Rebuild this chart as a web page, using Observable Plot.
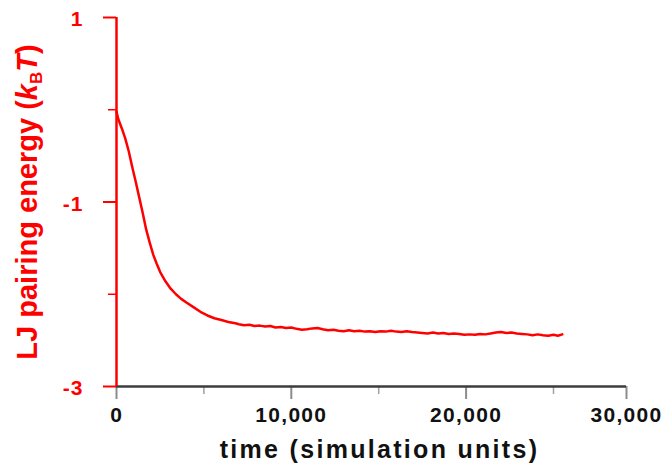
<!DOCTYPE html>
<html><head><meta charset="utf-8">
<script src="https://cdn.jsdelivr.net/npm/d3@7"></script>
<script src="https://cdn.jsdelivr.net/npm/@observablehq/plot@0.6"></script>
<style>
html,body{margin:0;padding:0;background:#fff;}
</style></head><body><div id="chart"></div>
<script>
// ---- data ----
const time = [
  0, 100, 300, 500, 700, 900, 1100, 1300, 1500, 1700, 1900, 2100, 2300, 2500, 2800,
  3100, 3400, 3700, 4000, 4400, 4800, 5200, 5600, 6000, 6400, 6800,
  7000, 7300, 7600, 7900, 8200, 8500, 8800, 9100, 9400, 9700, 10000, 10300, 10600,
  10900, 11200, 11500, 11800, 12100, 12400, 12700, 13000, 13300, 13600, 13900, 14200,
  14500, 14800, 15100, 15400, 15700, 16000, 16300, 16600, 16900, 17200, 17500, 17800,
  18100, 18400, 18700, 19000, 19300, 19600, 19900, 20200, 20500, 20800, 21100, 21400,
  21700, 22000, 22300, 22600, 22900, 23200, 23500, 23800, 24100, 24400, 24700, 25000,
  25300, 25600
];
const energy = [
  -0.02, -0.10, -0.20, -0.31, -0.45, -0.62, -0.78, -0.95, -1.12, -1.30, -1.44, -1.57, -1.67, -1.76, -1.86,
  -1.94, -2.00, -2.05, -2.09, -2.14, -2.19, -2.23, -2.26, -2.28, -2.30, -2.315,
  -2.325, -2.335, -2.330, -2.345, -2.340, -2.350, -2.345, -2.360, -2.355, -2.365, -2.360, -2.375, -2.385,
  -2.380, -2.370, -2.365, -2.380, -2.390, -2.385, -2.395, -2.400, -2.390, -2.400, -2.395, -2.405,
  -2.400, -2.410, -2.400, -2.405, -2.395, -2.405, -2.410, -2.400, -2.410, -2.415, -2.420, -2.425,
  -2.415, -2.425, -2.420, -2.430, -2.425, -2.430, -2.440, -2.435, -2.440, -2.430, -2.435, -2.425,
  -2.415, -2.410, -2.420, -2.415, -2.425, -2.430, -2.435, -2.445, -2.435, -2.445, -2.450, -2.440,
  -2.450, -2.435
];
const xMajorTicks = [0, 10000, 20000, 30000];
const xMinorTicks = [5000, 15000, 25000];
const yMajorTicks = [1, -1, -3];
const yMinorTicks = [0, -2];
const xLabel = "time (simulation units)";
const yLabel = "LJ pairing energy (kBT)";

// ---- chart ----
const data = time.map((t, i) => ({t, e: energy[i]}));
const red = "#ff0000";
const font = "'Liberation Sans', Arial, Helvetica, sans-serif";

const chart = Plot.plot({
  width: 666,
  height: 466,
  marginLeft: 116,
  marginRight: 40,
  marginTop: 17,
  marginBottom: 80,
  style: {fontFamily: font, background: "white"},
  x: {type: "linear", domain: [0, 25000, 30000], range: [116, 553, 626], axis: null},
  y: {type: "linear", domain: [-3, 1], axis: null},
  marks: [
    Plot.ruleX(xMajorTicks, {x: d => d, y1: -3, y2: -3, insetBottom: -13, stroke: "#8c8c8c", strokeWidth: 2}),
    Plot.ruleX(xMinorTicks, {x: d => d, y1: -3, y2: -3, insetBottom: -8, stroke: "#a0a0a0", strokeWidth: 1.5}),
    Plot.ruleY([-3], {x1: 0, x2: 30000, stroke: "#3c3c3c", strokeWidth: 2.5}),
    Plot.ruleY(yMajorTicks, {y: d => d, x1: 0, x2: 0, insetLeft: -13, stroke: red, strokeWidth: 2}),
    Plot.ruleY(yMinorTicks, {y: d => d, x1: 0, x2: 0, insetLeft: -8, stroke: red, strokeWidth: 1.5}),
    Plot.ruleX([0], {y1: -3, y2: 1, stroke: red, strokeWidth: 2.5}),
    Plot.line(data, {x: "t", y: "e", stroke: red, strokeWidth: 2.5, strokeLinejoin: "round"}),
    Plot.text(xMajorTicks, {x: d => d, y: -3, dy: 28.5, text: d => d3.format(",")(d),
      fontSize: 21, fontWeight: "bold", fill: "#111", lineAnchor: "middle"}),
    Plot.text(yMajorTicks, {x: 0, y: d => d, dx: -33, dy: 2, textAnchor: "end", text: d => String(d),
      fontSize: 21, fontWeight: "bold", fill: red, lineAnchor: "middle"}),
    Plot.text([xLabel], {frameAnchor: "bottom", dx: 8, dy: 63, text: d => d, lineAnchor: "middle",
      textAnchor: "middle", fontSize: 25, fontWeight: "bold", fill: "#111"}),
    Plot.text([yLabel], {frameAnchor: "left", rotate: -90, dx: -88.5, text: d => d, lineAnchor: "middle",
      textAnchor: "middle", fontSize: 29, fontWeight: "bold", fill: red})
  ]
});
document.getElementById("chart").appendChild(chart);

// letter spacing and the k_B T subscript
const svg = d3.select(chart);
svg.selectAll("text").each(function() {
  const t = this.textContent;
  const s = d3.select(this);
  if (/^[\d,]+$/.test(t)) s.style("letter-spacing", "1.3px");
  if (/^-?\d$/.test(t)) s.style("letter-spacing", "1px");
  if (t === xLabel) s.style("letter-spacing", "2.3px");
  if (t === yLabel) {
    s.text(null);
    s.append("tspan").text("LJ pairing energy (");
    s.append("tspan").attr("font-style", "italic").text("k");
    s.append("tspan").attr("font-size", 17).attr("dy", 5).text("B");
    s.append("tspan").attr("font-style", "italic").attr("dy", -5).text("T");
    s.append("tspan").text(")");
  }
});
</script>
</body></html>
